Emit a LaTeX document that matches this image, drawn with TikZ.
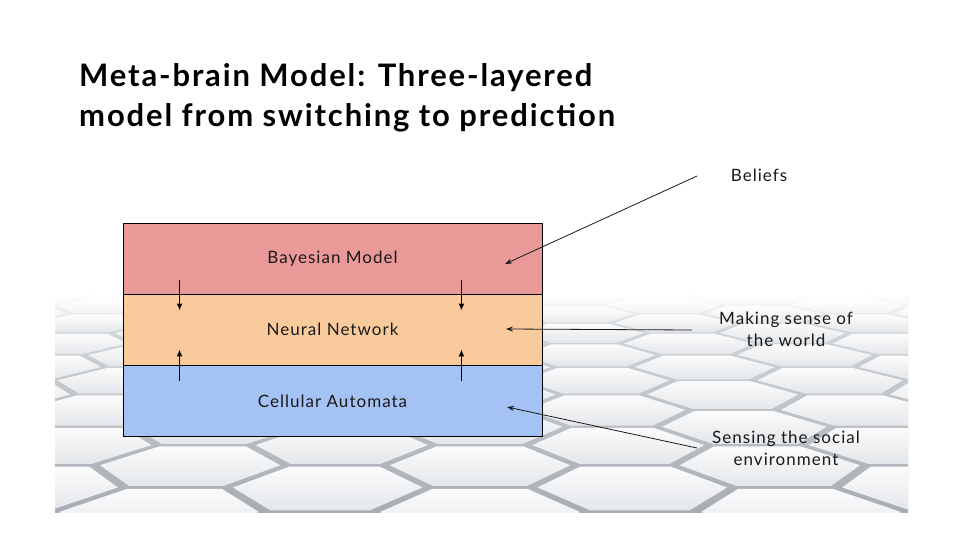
\documentclass[tikz,border=0pt]{standalone}
\usepackage{fontspec}
\setmainfont{Lato}[LetterSpace=6]
\usetikzlibrary{arrows.meta,calc,fadings}
\definecolor{bayescol}{HTML}{EA9999}
\definecolor{neuralcol}{HTML}{F9CB9C}
\definecolor{cellcol}{HTML}{A4C2F4}
\definecolor{gaplo}{HTML}{A7ADB3}
\definecolor{gaphi}{HTML}{D8DCDF}
\definecolor{tilelo}{HTML}{E4E7EA}
\definecolor{tilehi}{HTML}{FBFBFC}
\definecolor{ink}{HTML}{1A1A1A}
\tikzfading[name=fadetop, top color=transparent!0, bottom color=transparent!100]
\begin{document}
\begin{tikzpicture}[x=1pt,y=-1pt,
  layer/.style={draw=black, line width=0.9pt, minimum width=419pt,
    minimum height=71pt, inner sep=0pt, font=\fontsize{17}{20}\selectfont, text=ink},
  note/.style={font=\fontsize{17}{22}\selectfont, text=ink, align=center, inner sep=0pt},
  flow/.style={line width=1.5pt, -{Latex[length=7pt,width=6pt]}},
  conn/.style={line width=0.8pt, draw=ink, -{Stealth[length=7pt,width=5pt]}}]
\useasboundingbox (0,0) rectangle (960,540);
\fill[white] (0,0) rectangle (960,540);

% hexagonal tiled floor seen in perspective
\begin{scope}
  \clip (55,295) rectangle (908,512);
  \shade[top color=gaphi, bottom color=gaplo] (55,295) rectangle (908,512);
  \def\ha{107}\def\hr{100}\def\D{1725}\def\cx{480}\def\yb{512}\def\yh{30}
  \foreach \i in {-7,...,7}{
    \foreach \j in {-1,...,9}{
      \pgfmathsetmacro\cu{\i*1.5*\ha}
      \pgfmathsetmacro\cw{\j*1.7320508*\ha+mod(abs(\i),2)*0.8660254*\ha}
      \foreach \k in {0,...,5}{
        \pgfmathsetmacro\wu{\cu+\hr*cos(60*\k)}
        \pgfmathsetmacro\ww{\cw+\hr*sin(60*\k)}
        \pgfmathsetmacro\ss{\D/(\D+\ww)}
        \coordinate (h\k) at ({\cx+\wu*\ss},{\yh+(\yb-\yh)*\ss});
      }
      \shade[top color=tilehi, bottom color=tilelo]
        (h0)--(h1)--(h2)--(h3)--(h4)--(h5)--cycle;
    }
  }
  \fill[white,path fading=fadetop] (55,294) rectangle (908,328);
\end{scope}

% title
\node[anchor=north west, inner sep=0pt, align=left, text=black,
  font=\bfseries\fontsize{31}{40}\selectfont] (title) at (79,63)
  {Meta-brain Model: Three-layered\\model from switching to prediction};

% the three layers
\node[layer, fill=bayescol] (bayes) at (332.5,258.5) {Bayesian Model};
\node[layer, fill=neuralcol] (neural) at (332.5,329.5) {Neural Network};
\node[layer, fill=cellcol] (cell) at (332.5,401) {Cellular Automata};

% flows between layers
\draw[flow] ($(bayes.south west)+(57,-14)$) -- ($(neural.north west)+(57,17)$);
\draw[flow] ($(bayes.south east)+(-81,-14)$) -- ($(neural.north east)+(-81,17)$);
\draw[flow] ($(cell.north west)+(57,16)$) -- ($(neural.south west)+(57,-16)$);
\draw[flow] ($(cell.north east)+(-81,16)$) -- ($(neural.south east)+(-81,-16)$);

% annotations
\node[note] (beliefs) at (759,175) {Beliefs};
\node[note] (sense) at (786,329) {Making sense of\\the world};
\node[note] (social) at (786,448) {Sensing the social\\environment};

\coordinate (btail) at (697,176);
\coordinate (btip) at (505,264);
\coordinate (stail) at (692,330);
\coordinate (stip) at (506,329);
\coordinate (ctail) at (697,448);
\coordinate (ctip) at (507,407);
\draw[conn] (btail) -- (btip);
\draw[conn] (stail) -- (stip);
\draw[conn] (ctail) -- (ctip);
\end{tikzpicture}
\end{document}
